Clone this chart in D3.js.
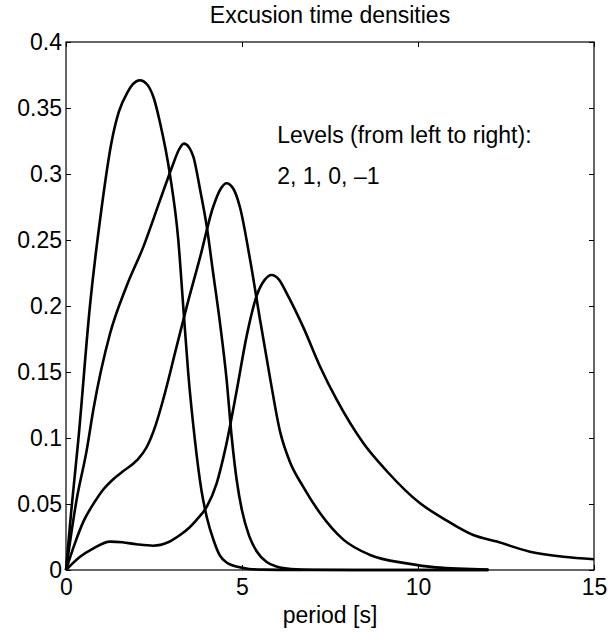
<!DOCTYPE html>
<html>
<head>
<meta charset="utf-8">
<script src="https://cdn.jsdelivr.net/npm/d3@7"></script>
<style>
  body { margin: 0; background: #fff; }
  text { font-family: "Liberation Sans", Arial, Helvetica, sans-serif; }
</style>
</head>
<body>
<div id="chart-container"></div>
<script>
// curve for level 2 (leftmost)
const xLevel2 = [0, 0.15, 0.35, 0.68, 1.0, 1.3, 1.5, 1.75, 1.9, 2.1, 2.3, 2.5, 2.67, 2.95, 3.19, 3.33, 3.47, 3.66, 3.85, 4.0, 4.2, 4.37, 4.6, 4.9, 5.2, 5.6, 6.5, 8, 10, 12];
const yLevel2 = [0, 0.045, 0.0985, 0.2, 0.272, 0.325, 0.347, 0.362, 0.368, 0.371, 0.368, 0.357, 0.339, 0.3, 0.25, 0.2, 0.15, 0.099, 0.06, 0.04, 0.022, 0.011, 0.005, 0.0022, 0.0008, 0.0003, 0, 0, 0, 0];

// level 1
const xLevel1 = [0, 0.3, 0.59, 0.78, 1.25, 1.72, 2.2, 2.67, 3.05, 3.2, 3.35, 3.5, 3.62, 3.81, 4.0, 4.18, 4.375, 4.56, 4.71, 4.85, 5.0, 5.2, 5.42, 5.7, 6.0, 6.4, 7, 9, 12];
const yLevel1 = [0, 0.053, 0.091, 0.122, 0.179, 0.215, 0.245, 0.28, 0.308, 0.318, 0.323, 0.32, 0.313, 0.288, 0.26, 0.225, 0.187, 0.145, 0.1, 0.068, 0.045, 0.026, 0.014, 0.006, 0.0025, 0.0008, 0.0002, 0, 0];

// level 0
const xLevel0 = [0, 0.25, 0.5, 0.8, 1.06, 1.35, 1.63, 2.01, 2.29, 2.55, 2.76, 3.14, 3.43, 3.81, 4.18, 4.4, 4.56, 4.75, 4.94, 5.23, 5.51, 5.8, 6.08, 6.36, 6.74, 7.22, 7.88, 8.64, 9.68, 10.5, 12];
const yLevel0 = [0, 0.02, 0.037, 0.051, 0.061, 0.069, 0.075, 0.083, 0.093, 0.11, 0.129, 0.169, 0.1995, 0.237, 0.275, 0.289, 0.293, 0.289, 0.275, 0.235, 0.19, 0.145, 0.105, 0.082, 0.063, 0.043, 0.023, 0.0114, 0.005, 0.002, 0.0003];

// level -1 (rightmost)
const xLevelM1 = [0, 0.4, 0.78, 1.25, 1.6, 2.0, 2.48, 2.9, 3.24, 3.5, 3.71, 4.0, 4.28, 4.52, 4.85, 5.13, 5.42, 5.65, 5.84, 6.05, 6.27, 6.74, 7.22, 7.69, 8.45, 9.11, 10.06, 10.72, 11.57, 12.24, 13.18, 14.13, 15];
const yLevelM1 = [0, 0.01, 0.0164, 0.0215, 0.021, 0.0195, 0.0184, 0.021, 0.0265, 0.032, 0.038, 0.048, 0.0657, 0.091, 0.136, 0.177, 0.208, 0.22, 0.2235, 0.22, 0.2096, 0.184, 0.154, 0.129, 0.096, 0.075, 0.0505, 0.039, 0.0265, 0.0215, 0.0139, 0.01, 0.0081];

const xTicks = [0, 5, 10, 15];
const yTicks = [0, 0.05, 0.1, 0.15, 0.2, 0.25, 0.3, 0.35, 0.4];
const yTickLabels = ["0", "0.05", "0.1", "0.15", "0.2", "0.25", "0.3", "0.35", "0.4"];

const series = [
  [xLevel2, yLevel2],
  [xLevel1, yLevel1],
  [xLevel0, yLevel0],
  [xLevelM1, yLevelM1]
];

const margin = {top: 42, right: 14, bottom: 62, left: 66},
    width = 608 - margin.left - margin.right,
    height = 632 - margin.top - margin.bottom;
const fontSize = 23;

const svg = d3.select("#chart-container")
    .append("svg")
    .attr("width", 608)
    .attr("height", 632)
    .append("g")
    .attr("transform", "translate(" + margin.left + "," + margin.top + ")");

const x = d3.scaleLinear().domain([0, 15]).range([0, width]);
const y = d3.scaleLinear().domain([0, 0.4]).range([height, 0]);

// curves
const line = d3.line()
    .x(d => x(d[0]))
    .y(d => y(d[1]))
    .curve(d3.curveMonotoneX);

svg.append("g")
    .selectAll("path")
    .data(series)
    .enter()
    .append("path")
    .attr("d", s => line(s[0].map((v, i) => [v, s[1][i]])))
    .attr("fill", "none")
    .attr("stroke", "black")
    .attr("stroke-width", 2.6)
    .attr("stroke-linejoin", "round");

// axes, ticks pointing inward
const yIdx = d => yTicks.indexOf(d);

svg.append("g")
    .attr("transform", `translate(0, ${height})`)
    .call(d3.axisBottom(x).tickValues(xTicks).tickSizeInner(-5).tickSizeOuter(0).tickPadding(9).tickFormat(d3.format("d")));

svg.append("g")
    .call(d3.axisLeft(y).tickValues(yTicks).tickSizeInner(-5).tickSizeOuter(0).tickPadding(4).tickFormat(d => yTickLabels[yIdx(d)]));

svg.append("g")
    .call(d3.axisTop(x).tickValues(xTicks).tickSizeInner(-5).tickSizeOuter(0).tickFormat(""));

svg.append("g")
    .attr("transform", `translate(${width}, 0)`)
    .call(d3.axisRight(y).tickValues(yTicks).tickSizeInner(-5).tickSizeOuter(0).tickFormat(""));

svg.selectAll(".domain").remove();
svg.selectAll(".tick line").attr("stroke", "black").attr("stroke-width", 1);
svg.selectAll(".tick text")
    .style("font-size", fontSize + "px")
    .style("fill", "black")
    .style("font-family", '"Liberation Sans", Arial, sans-serif');

svg.append("rect")
    .attr("width", width)
    .attr("height", height)
    .attr("fill", "none")
    .attr("stroke", "black")
    .attr("stroke-width", 1.2);

// title and labels
svg.append("text")
    .attr("text-anchor", "middle")
    .attr("x", width / 2)
    .attr("y", -19)
    .style("font-size", fontSize + "px")
    .text("Excusion time densities");

svg.append("text")
    .attr("text-anchor", "middle")
    .attr("x", width / 2)
    .attr("y", height + 53)
    .style("font-size", fontSize + "px")
    .text("period [s]");

svg.append("text")
    .attr("x", x(6))
    .attr("y", y(0.3235))
    .style("font-size", fontSize + "px")
    .text("Levels (from left to right):");

svg.append("text")
    .attr("x", x(6))
    .attr("y", y(0.2924))
    .style("font-size", fontSize + "px")
    .text("2, 1, 0, \u20131");
</script>
</body>
</html>
